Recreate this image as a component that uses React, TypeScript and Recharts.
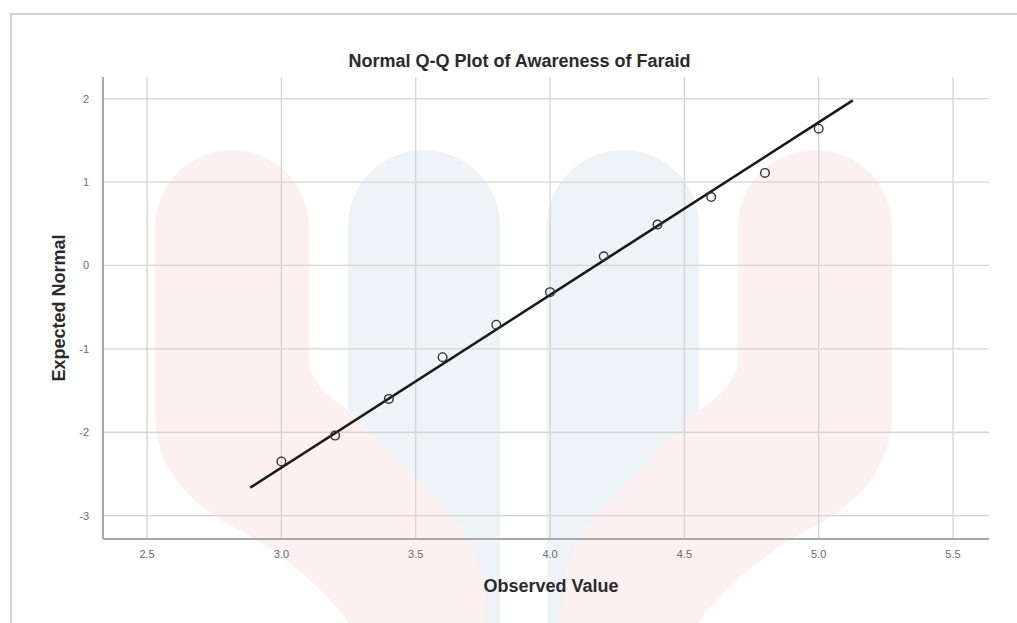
import React from "react";
import {
  ScatterChart,
  Scatter,
  XAxis,
  YAxis,
  CartesianGrid,
} from "recharts";

// Observed values (x) and expected normal quantiles (y)
const observedValues = [3.0, 3.2, 3.4, 3.6, 3.8, 4.0, 4.2, 4.4, 4.6, 4.8, 5.0];
const expectedNormal = [-2.35, -2.04, -1.6, -1.1, -0.71, -0.32, 0.11, 0.49, 0.82, 1.11, 1.64];

// Reference line end points
const lineX = [2.884, 5.127];
const lineY = [-2.665, 1.98];

const xTicks = [2.5, 3.0, 3.5, 4.0, 4.5, 5.0, 5.5];
const yTicks = [-3, -2, -1, 0, 1, 2];

const pointData = observedValues.map((x, i) => ({ x, y: expectedNormal[i] }));
const lineData = lineX.map((x, i) => ({ x, y: lineY[i] }));

const FONT = "'Liberation Sans', Arial, Helvetica, sans-serif";

const OpenCircle = (props: any) => {
  const { cx, cy } = props;
  if (cx == null || cy == null) return null;
  return (
    <circle cx={cx} cy={cy} r={4.3} fill="none" stroke="#333" strokeWidth={1.4} />
  );
};

const NoShape = () => null;

const Watermark = () => (
  <svg
    width={1017}
    height={623}
    style={{ position: "absolute", left: 0, top: 0 }}
  >
    <path d="M348,226 A76,76 0 0 1 500,226 L500,623 L348,623 Z" fill="#eef3f7" />
    <path d="M547,226 A76,76 0 0 1 699,226 L699,623 L547,623 Z" fill="#eef3f7" />
    <path
      d="M155,227 A77,77 0 0 1 309,227 L309,360 Q309,385 348,410 L450,515 Q487,555 487,623 L350,623 Q300,560 230,525 Q158,485 155,420 Z"
      fill="#fdf0f0"
    />
    <path
      d="M892,227 A77,77 0 0 0 738,227 L738,360 Q738,385 699,410 L597,515 Q560,555 560,623 L697,623 Q747,560 817,525 Q889,485 892,420 Z"
      fill="#fdf0f0"
    />
  </svg>
);

export default function App() {
  return (
    <div
      style={{
        position: "absolute",
        left: 0,
        top: 0,
        width: 1017,
        height: 623,
        overflow: "hidden",
        background: "#fff",
        fontFamily: FONT,
      }}
    >
      <Watermark />
      <div
        style={{
          position: "absolute",
          left: 10,
          top: 13,
          width: 1100,
          height: 800,
          border: "2px solid #d2d2d2",
          boxSizing: "border-box",
        }}
      />
      <div style={{ position: "absolute", left: 0, top: 0 }}>
        <ScatterChart
          width={1017}
          height={623}
          margin={{ top: 77, right: 28, bottom: 54, left: 0 }}
        >
          <CartesianGrid
            stroke="#d4d4d4"
            strokeWidth={1.3}
            horizontalValues={yTicks}
            verticalValues={xTicks}
          />
          <XAxis
            type="number"
            dataKey="x"
            domain={[2.336, 5.634]}
            ticks={xTicks}
            allowDataOverflow
            tickFormatter={(v: number) => v.toFixed(1)}
            tickLine={false}
            axisLine={{ stroke: "#a8a8a8", strokeWidth: 2 }}
            tick={{ fill: "#6a6a6a", fontSize: 11, fontFamily: FONT }}
            height={30}
            tickMargin={5}
          />
          <YAxis
            type="number"
            dataKey="y"
            domain={[-3.28, 2.26]}
            ticks={yTicks}
            allowDataOverflow
            tickLine={false}
            axisLine={{ stroke: "#a8a8a8", strokeWidth: 2 }}
            tick={{ fill: "#6a6a6a", fontSize: 11, fontFamily: FONT }}
            width={103}
            tickMargin={8}
          />
          <Scatter
            data={lineData}
            line={{ stroke: "#1a1a1a", strokeWidth: 2.6 }}
            shape={NoShape}
            isAnimationActive={false}
          />
          <Scatter data={pointData} shape={OpenCircle} isAnimationActive={false} />
        </ScatterChart>
      </div>
      <div
        style={{
          position: "absolute",
          left: 0,
          width: 1039,
          top: 50,
          textAlign: "center",
          fontWeight: "bold",
          fontSize: 18,
          lineHeight: "22px",
          color: "#2a2a2a",
          whiteSpace: "nowrap",
        }}
      >
        Normal Q-Q Plot of Awareness of Faraid
      </div>
      <div
        style={{
          position: "absolute",
          left: 0,
          width: 1102,
          top: 575,
          textAlign: "center",
          fontWeight: "bold",
          fontSize: 18,
          lineHeight: "22px",
          color: "#2a2a2a",
          whiteSpace: "nowrap",
        }}
      >
        Observed Value
      </div>
      <div
        style={{
          position: "absolute",
          left: 59,
          top: 308,
          transform: "translate(-50%, -50%) rotate(-90deg)",
          fontWeight: "bold",
          fontSize: 18,
          lineHeight: "22px",
          color: "#2a2a2a",
          whiteSpace: "nowrap",
        }}
      >
        Expected Normal
      </div>
    </div>
  );
}
